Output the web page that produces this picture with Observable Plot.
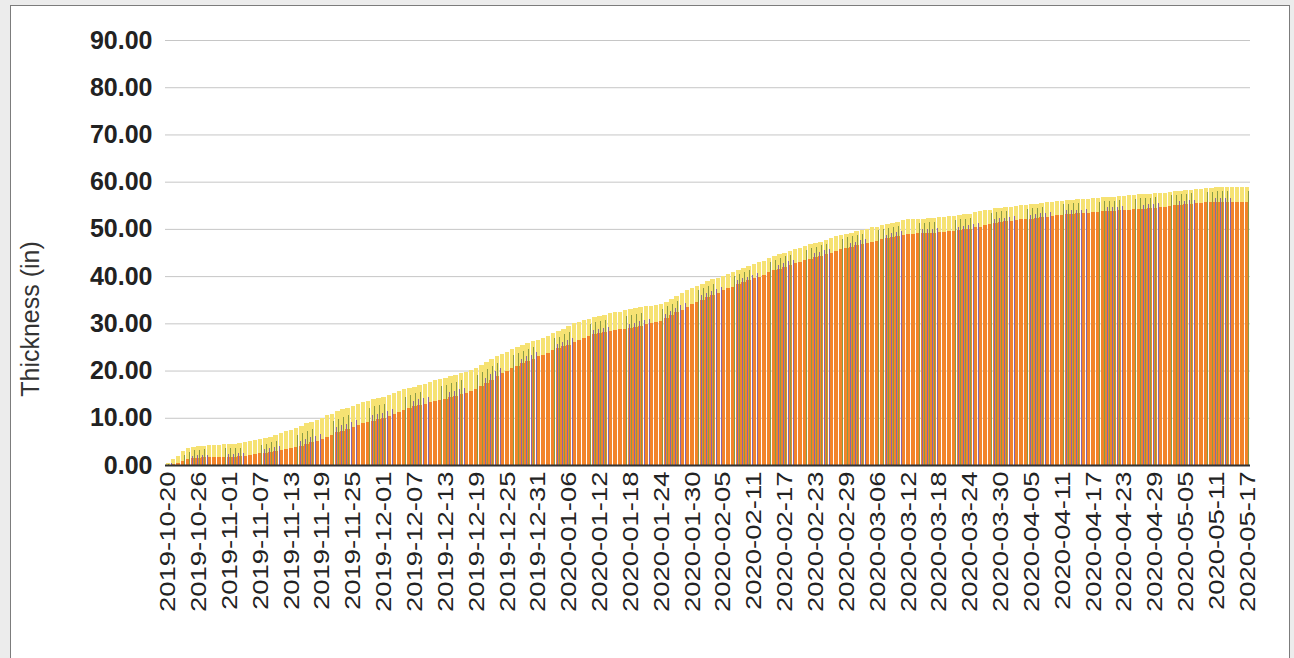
<!DOCTYPE html>
<html>
<head>
<meta charset="utf-8">
<script src="https://cdn.jsdelivr.net/npm/d3@7"></script>
<script src="https://cdn.jsdelivr.net/npm/@observablehq/plot@0.6"></script>
<style>
  html, body { margin: 0; padding: 0; background: #ececec; }
  #frame { position: absolute; left: 10px; top: 5px; width: 1278px; height: 700px;
           border: 1px solid #7c7c7c; background: #ffffff; overflow: hidden; }
  #chart { position: absolute; left: 0; top: 0; }
  #ylabel { position: absolute; left: -81px; top: 298px; width: 200px; height: 30px; line-height: 30px;
            text-align: center; transform: rotate(-90deg); font-family: "Liberation Sans", Arial, sans-serif;
            font-size: 25px; color: #333; white-space: nowrap; }
</style>
</head>
<body>
<div id="frame"><div id="chart"></div><div id="ylabel">Thickness (in)</div></div>
<script>
const startDate = "2019-10-20";
const endDate = "2020-05-17";
const seriesNames = ["Series 1", "Series 2", "Series 3", "Series 4"];
const seriesColors = ["#f2842a", "#f6e273", "#8a9c46", "#8a66a8"];
const yTicks = [0, 10, 20, 30, 40, 50, 60, 70, 80, 90];
const tickLabels = ["2019-10-20","2019-10-26","2019-11-01","2019-11-07","2019-11-13","2019-11-19","2019-11-25",
  "2019-12-01","2019-12-07","2019-12-13","2019-12-19","2019-12-25","2019-12-31","2020-01-06","2020-01-12",
  "2020-01-18","2020-01-24","2020-01-30","2020-02-05","2020-02-11","2020-02-17","2020-02-23","2020-02-29",
  "2020-03-06","2020-03-12","2020-03-18","2020-03-24","2020-03-30","2020-04-05","2020-04-11","2020-04-17",
  "2020-04-23","2020-04-29","2020-05-05","2020-05-11","2020-05-17"];

// Series 1 (orange)
const orange = [
0.0,0.2,0.5,0.9,1.2,1.4, 1.5,1.6,1.6,1.7,1.7,1.8, 1.8,1.8,1.9,2.0,2.1,2.3, 2.5,2.6,2.8,3.0,3.1,3.3,
3.5,3.8,4.1,4.5,4.8,5.1, 5.5,6.0,6.4,6.9,7.3,7.6, 8.0,8.4,8.8,9.1,9.4,9.7, 10.0,10.3,10.7,11.2,11.7,12.1,
12.5,12.8,13.0,13.3,13.5,13.8, 14.0,14.3,14.6,15.0,15.3,15.6, 16.0,16.7,17.4,18.1,18.8,19.4, 20.0,20.5,21.0,21.5,22.0,22.5,
23.0,23.4,23.8,24.3,24.7,25.1, 25.5,26.0,26.4,26.9,27.3,27.7, 28.0,28.2,28.4,28.6,28.7,28.9, 29.0,29.2,29.5,29.8,30.0,30.3,
30.5,31.1,31.7,32.3,32.9,33.5, 34.0,34.5,35.0,35.5,36.0,36.5, 37.0,37.4,37.8,38.3,38.7,39.1, 39.5,39.9,40.3,40.8,41.2,41.6,
42.0,42.3,42.7,43.0,43.4,43.7, 44.0,44.3,44.7,45.0,45.4,45.7, 46.0,46.2,46.5,46.8,47.0,47.3, 47.5,47.8,48.0,48.3,48.5,48.8,
49.0,49.0,49.1,49.1,49.2,49.2, 49.3,49.4,49.5,49.6,49.7,49.9, 50.0,50.3,50.5,50.8,51.0,51.3, 51.5,51.6,51.7,51.9,52.0,52.1,
52.2,52.3,52.5,52.6,52.7,52.9, 53.0,53.1,53.2,53.3,53.3,53.4, 53.5,53.6,53.7,53.8,53.8,53.9, 54.0,54.1,54.2,54.3,54.3,54.4,
54.5,54.6,54.7,54.9,55.0,55.1, 55.2,55.3,55.4,55.5,55.6,55.7, 55.8,55.8,55.8,55.8,55.8,55.8, 55.8];

// Series 2 (yellow)
const yellow = [
0.5,1.2,2.0,2.9,3.5,3.9, 4.0,4.1,4.2,4.3,4.3,4.5, 4.5,4.5,4.7,4.8,5.0,5.2, 5.5,5.7,6.0,6.4,6.7,7.1,
7.5,7.9,8.3,8.8,9.2,9.6, 10.0,10.5,10.9,11.4,11.8,12.1, 12.5,12.9,13.3,13.6,13.9,14.2, 14.5,14.8,15.2,15.6,16.0,16.3,
16.5,16.9,17.2,17.6,17.9,18.2, 18.5,18.8,19.1,19.5,19.8,20.1, 20.5,21.2,21.8,22.5,23.1,23.6, 24.0,24.5,25.0,25.4,25.8,26.2,
26.5,26.9,27.4,27.9,28.4,28.9, 29.5,30.0,30.3,30.7,31.0,31.3, 31.5,31.8,32.1,32.3,32.5,32.8, 33.0,33.2,33.4,33.6,33.7,33.9,
34.0,34.6,35.2,35.8,36.4,37.0, 37.5,38.0,38.4,38.9,39.3,39.7, 40.0,40.4,40.8,41.3,41.7,42.1, 42.5,42.9,43.3,43.8,44.2,44.6,
45.0,45.3,45.7,46.0,46.4,46.7, 47.0,47.3,47.7,48.0,48.4,48.7, 49.0,49.2,49.5,49.8,50.0,50.3, 50.5,50.8,51.0,51.3,51.5,51.8,
52.0,52.0,52.2,52.2,52.3,52.4, 52.5,52.6,52.7,52.8,52.9,53.1, 53.2,53.5,53.7,54.0,54.1,54.4, 54.5,54.6,54.7,54.9,55.0,55.1,
55.2,55.3,55.5,55.6,55.7,55.9, 56.0,56.1,56.2,56.3,56.3,56.4, 56.5,56.6,56.7,56.8,56.8,56.9, 57.0,57.1,57.2,57.3,57.3,57.4,
57.5,57.6,57.7,57.9,58.0,58.1, 58.2,58.3,58.4,58.5,58.6,58.7, 58.8,58.8,58.8,58.8,58.8,58.8, 58.8];

// Series 3 (green)
const green = [
0.3,0.9,1.5,2.2,2.8,3.1, 3.2,3.3,3.3,3.4,3.4,3.5, 3.5,3.6,3.7,3.8,3.9,4.1, 4.3,4.5,4.8,5.1,5.4,5.7,
6.0,6.4,6.8,7.2,7.6,8.0, 8.4,8.9,9.3,9.8,10.2,10.6, 11.0,11.4,11.8,12.1,12.4,12.7, 13.0,13.3,13.7,14.1,14.5,14.9,
15.2,15.5,15.8,16.1,16.4,16.7, 17.0,17.3,17.6,18.0,18.3,18.6, 19.0,19.6,20.3,21.0,21.6,22.2, 22.7,23.2,23.7,24.2,24.6,25.0,
25.4,25.8,26.3,26.8,27.2,27.7, 28.2,28.7,29.1,29.5,29.9,30.2, 30.4,30.7,30.9,31.1,31.3,31.5, 31.7,31.9,32.2,32.4,32.6,32.8,
33.0,33.6,34.2,34.8,35.4,36.0, 36.5,37.0,37.4,37.9,38.4,38.8, 39.2,39.6,40.0,40.5,40.9,41.3, 41.7,42.1,42.5,43.0,43.4,43.8,
44.2,44.5,44.9,45.2,45.6,45.9, 46.2,46.5,46.9,47.2,47.6,47.9, 48.2,48.4,48.7,49.0,49.2,49.5, 49.7,50.0,50.2,50.5,50.7,51.0,
51.2,51.2,51.3,51.3,51.4,51.5, 51.6,51.7,51.8,51.9,52.0,52.2, 52.3,52.6,52.8,53.1,53.3,53.6, 53.7,53.8,53.9,54.1,54.2,54.3,
54.4,54.5,54.7,54.8,54.9,55.1, 55.2,55.3,55.4,55.5,55.5,55.6, 55.7,55.8,55.9,56.0,56.0,56.1, 56.2,56.3,56.4,56.5,56.5,56.6,
56.7,56.8,56.9,57.1,57.2,57.3, 57.4,57.5,57.6,57.7,57.8,57.9, 58.0,58.0,58.0,58.0,58.0,58.0, 58.0];

// Series 4 (purple)
const purple = [
0.1,0.4,0.8,1.3,1.7,2.0, 2.1,2.2,2.2,2.3,2.3,2.4, 2.4,2.4,2.5,2.6,2.7,2.9, 3.1,3.3,3.5,3.8,4.0,4.2,
4.4,4.8,5.1,5.5,5.9,6.2, 6.6,7.1,7.5,8.0,8.4,8.7, 9.1,9.5,9.9,10.2,10.5,10.8, 11.1,11.4,11.8,12.3,12.8,13.2,
13.6,13.9,14.1,14.4,14.6,14.9, 15.1,15.4,15.7,16.1,16.4,16.7, 17.1,17.8,18.5,19.2,19.9,20.5, 21.1,21.6,22.1,22.5,23.0,23.4,
23.9,24.3,24.7,25.2,25.6,26.0, 26.4,26.9,27.3,27.8,28.2,28.6, 28.9,29.1,29.3,29.5,29.6,29.8, 29.9,30.1,30.4,30.7,30.9,31.2,
31.4,32.0,32.6,33.2,33.8,34.4, 34.9,35.4,35.9,36.4,36.9,37.3, 37.8,38.2,38.6,39.1,39.5,39.9, 40.3,40.7,41.1,41.6,42.0,42.4,
42.8,43.1,43.5,43.8,44.2,44.5, 44.8,45.1,45.5,45.8,46.2,46.5, 46.8,47.0,47.3,47.6,47.8,48.1, 48.3,48.6,48.8,49.1,49.3,49.6,
49.8,49.8,49.9,49.9,50.0,50.0, 50.1,50.2,50.3,50.4,50.5,50.7, 50.8,51.1,51.3,51.6,51.8,52.1, 52.3,52.4,52.5,52.7,52.8,52.9,
53.0,53.1,53.3,53.4,53.5,53.7, 53.8,53.9,54.0,54.1,54.1,54.2, 54.3,54.4,54.5,54.6,54.6,54.7, 54.8,54.9,55.0,55.1,55.1,55.2,
55.3,55.4,55.5,55.7,55.8,55.9, 56.0,56.1,56.2,56.3,56.4,56.5, 56.6,56.6,56.6,56.6,56.6,56.6, 56.6];

const seriesValues = [orange, yellow, green, purple];
const fmt = d3.utcFormat("%Y-%m-%d");
const dates = d3.utcDay.range(new Date(startDate + "T00:00Z"), d3.utcDay.offset(new Date(endDate + "T00:00Z"), 1)).map(fmt);

const rows = dates.flatMap((d, i) => seriesNames.map((s, j) => ({date: d, series: s, value: seriesValues[j][i]})));
const of = k => rows.filter(r => r.series === seriesNames[k]);
const common = k => ({x: "date", y: "value", fill: seriesColors[k], shapeRendering: "crispEdges"});

const chart = Plot.plot({
  width: 1278,
  height: 652,
  marginLeft: 154,
  marginRight: 39,
  marginTop: 34,
  marginBottom: 193,
  style: {fontFamily: "'Liberation Sans', Arial, sans-serif", background: "transparent", overflow: "visible"},
  x: {type: "band", domain: dates, paddingInner: 0.14, paddingOuter: 0.1, round: false, axis: null},
  y: {domain: [0, 90], axis: null},
  marks: [
    Plot.gridY(yTicks.slice(1), {stroke: "#c6c6c6", strokeOpacity: 1}),
    Plot.barY(of(1), common(1)),
    Plot.barY(of(0), common(0)),
    Plot.barY(of(2), {...common(2), insetLeft: 2.95, insetRight: 0.85}),
    Plot.barY(of(3), {...common(3), insetLeft: 0.75, insetRight: 3.05}),
    Plot.ruleY([0], {stroke: "#333", strokeWidth: 2}),
    Plot.axisY(yTicks, {tickSize: 0, tickPadding: 13, tickFormat: d => d.toFixed(2), fontSize: 25, fontWeight: "bold", fill: "#222", label: null}),
    Plot.axisX(tickLabels, {tickSize: 0, tickPadding: 6, tickRotate: -90, fontSize: 22, fill: "#222", label: null})
  ]
});
document.getElementById("chart").appendChild(chart);

// widen rotated date labels along their reading direction
d3.select(chart).selectAll('g[aria-label="x-axis tick label"] text').each(function() {
  const t = this.getAttribute("transform") || "";
  this.setAttribute("transform", t + " scale(1.25,1)");
});
</script>
</body>
</html>
